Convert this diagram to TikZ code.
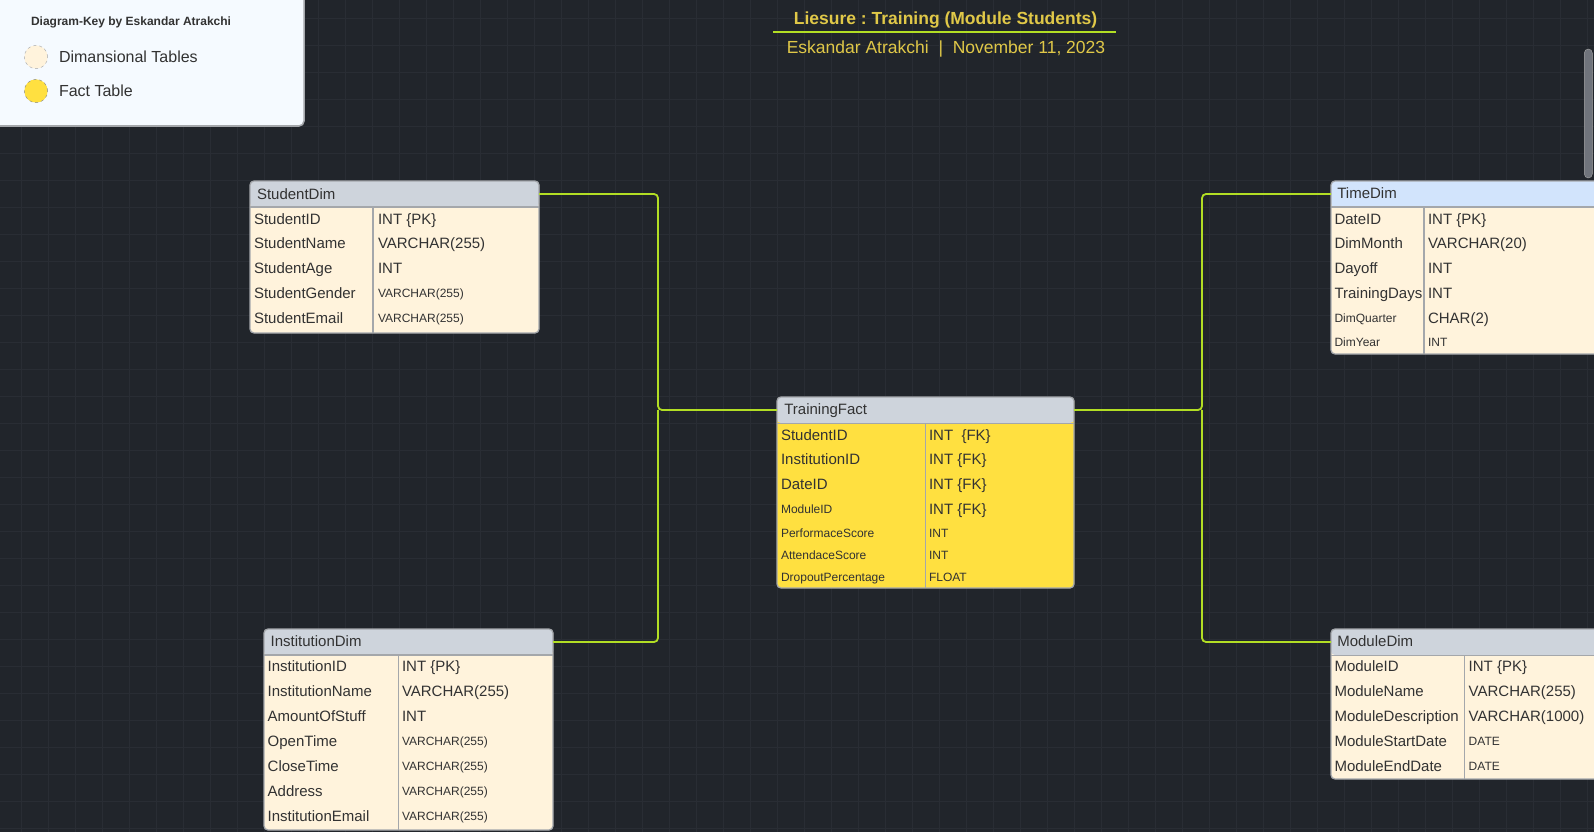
\documentclass[tikz,border=0pt]{standalone}
\usepackage{fontspec}
\setmainfont{Liberation Sans}
\usetikzlibrary{positioning}
\frenchspacing

\definecolor{bgdark}{RGB}{33,37,43}
\definecolor{gridc}{RGB}{41,45,52}
\definecolor{hdrgray}{RGB}{206,212,220}
\definecolor{hdrblue}{RGB}{210,228,252}
\definecolor{dimbody}{RGB}{255,243,220}
\definecolor{factbody}{RGB}{255,224,64}
\definecolor{edgegray}{RGB}{164,167,171}
\definecolor{txtdark}{RGB}{50,50,50}
\definecolor{keybg}{RGB}{245,250,255}
\definecolor{lime}{RGB}{178,222,36}
\definecolor{ttlc}{RGB}{224,200,72}
\definecolor{scrollc}{RGB}{112,116,124}

\begin{document}
\begin{tikzpicture}[x=1pt,y=-1pt,
    every node/.style={inner sep=0pt,outer sep=0pt},
    lg/.style={font=\fontsize{15}{18}\selectfont,text height=10.7pt,text depth=0pt},
    sm/.style={font=\fontsize{12}{14}\selectfont,text height=8.6pt,text depth=0pt},
    cell/.style={anchor=west,text=txtdark},
    tbl/.style={draw=edgegray,line width=1.3pt,rounded corners=4pt,anchor=north west,
      path picture={\fill[#1] (path picture bounding box.north west) rectangle
        ([yshift=-26pt]path picture bounding box.north east);}},
    rule/.style={draw=edgegray,line width=1.3pt},
    link/.style={draw=lime,line width=1.8pt,rounded corners=4pt}]
  \useasboundingbox (0,0) rectangle (1594,832);
  \clip (0,0) rectangle (1594,832);
  \fill[bgdark] (0,0) rectangle (1594,832);
  % background grid
  \foreach \i in {0,...,58}
    \draw[gridc,line width=0.8pt] (21.8+\i*27,0) -- (21.8+\i*27,832);
  \foreach \j in {0,...,30}
    \draw[gridc,line width=0.8pt] (0,18.3+\j*27) -- (1594,18.3+\j*27);

  % key
  \node[fill=keybg,draw=edgegray,line width=1.5pt,rounded corners=5pt,anchor=south east,
    minimum width=320pt,minimum height=140pt] (key) at (304,126) {};
  \node[anchor=west,font=\fontsize{12}{14}\selectfont\bfseries,text=txtdark,
    text height=8.6pt,text depth=0pt] (keyt) at (31,21) {Diagram-Key by Eskandar Atrakchi};
  \node[circle,minimum size=23.4pt,fill=dimbody,draw=edgegray,dashed,thin] (kd) at (36,57) {};
  \node[circle,minimum size=23.4pt,fill=factbody,draw=edgegray!80!black,dashed,thin] (kf) at (36,91) {};
  \node[text=txtdark,font=\fontsize{16}{19}\selectfont,text height=11.5pt,text depth=0pt,
    right=11.3pt of kd] (kdl) {Dimansional Tables};
  \node[text=txtdark,font=\fontsize{16}{19}\selectfont,text height=11.5pt,text depth=0pt,
    right=11.3pt of kf] (kfl) {Fact Table};

  % title
  \node[text=ttlc,font=\fontsize{17.5}{20}\selectfont\bfseries,text height=12.5pt,text depth=0pt]
    (ttl) at (945.5,18.3) {Liesure : Training (Module Students)};
  \draw[lime,line width=2pt] (773,32) -- (1116,32);
  \node[text=ttlc,font=\fontsize{17.5}{20}\selectfont,text height=12.5pt,text depth=0pt]
    (sub) at (946,47) {Eskandar Atrakchi\ \ |\ \ November 11, 2023};

  % scroll bar
  \draw[fill=scrollc,draw=gray!70,rounded corners=4pt] (1584.3,49) rectangle (1592.3,178);

  % StudentDim
  \node[tbl=hdrgray,fill=dimbody,minimum width=289pt,minimum height=152pt] (sd) at (250,181) {};
  \draw[rule] (250,207) -- (539,207) (373,207) -- (373,333);
  \node[cell,lg] (sd-t) at (257,194) {StudentDim};
  \foreach \f/\fs/\t/\ts/\y [count=\i] in {StudentID/lg/INT \{PK\}/lg/219,
      StudentName/lg/VARCHAR(255)/lg/243.5, StudentAge/lg/INT/lg/268.5,
      StudentGender/lg/VARCHAR(255)/sm/293.3, StudentEmail/lg/VARCHAR(255)/sm/318.3}
  {
    \node[cell,\fs] (sd-f\i) at (254,\y) {\f};
    \node[cell,\ts] (sd-c\i) at (378,\y) {\t};
  }

  % TimeDim
  \node[tbl=hdrblue,fill=dimbody,minimum width=300pt,minimum height=173pt] (td) at (1331,181) {};
  \draw[rule] (1331,207) -- (1631,207) (1424,207) -- (1424,354);
  \node[cell,lg] (td-t) at (1337.3,193) {TimeDim};
  \foreach \f/\fs/\t/\ts/\y [count=\i] in {DateID/lg/INT \{PK\}/lg/219,
      DimMonth/lg/VARCHAR(20)/lg/243.5, Dayoff/lg/INT/lg/268.5,
      TrainingDays/lg/INT/lg/293.3, DimQuarter/sm/CHAR(2)/lg/318.3, DimYear/sm/INT/sm/342.3}
  {
    \node[cell,\fs] (td-f\i) at (1334.5,\y) {\f};
    \node[cell,\ts] (td-c\i) at (1428,\y) {\t};
  }

  % TrainingFact
  \node[tbl=hdrgray,fill=factbody,minimum width=297pt,minimum height=191pt] (tf) at (777,397) {};
  \draw[rule] (777,423.7) -- (1074,423.7) (925.7,423.7) -- (925.7,588);
  \node[cell,lg] (tf-t) at (784.3,409.5) {TrainingFact};
  \foreach \f/\fs/\t/\ts/\y [count=\i] in {StudentID/lg/INT\ \ \{FK\}/lg/435,
      InstitutionID/lg/INT \{FK\}/lg/459.5, DateID/lg/INT \{FK\}/lg/484.5,
      ModuleID/sm/INT \{FK\}/lg/509.5, PerformaceScore/sm/INT/sm/532.7,
      AttendaceScore/sm/INT/sm/555, DropoutPercentage/sm/FLOAT/sm/576.7}
  {
    \node[cell,\fs] (tf-f\i) at (781,\y) {\f};
    \node[cell,\ts] (tf-c\i) at (929,\y) {\t};
  }

  % InstitutionDim
  \node[tbl=hdrgray,fill=dimbody,minimum width=289pt,minimum height=201pt] (in) at (264,629) {};
  \draw[rule] (264,655) -- (553,655) (398.3,655) -- (398.3,830);
  \node[cell,lg] (in-t) at (270.7,641) {InstitutionDim};
  \foreach \f/\fs/\t/\ts/\y [count=\i] in {InstitutionID/lg/INT \{PK\}/lg/666,
      InstitutionName/lg/VARCHAR(255)/lg/691, AmountOfStuff/lg/INT/lg/716,
      OpenTime/lg/VARCHAR(255)/sm/741, CloseTime/lg/VARCHAR(255)/sm/766,
      Address/lg/VARCHAR(255)/sm/791, InstitutionEmail/lg/VARCHAR(255)/sm/816}
  {
    \node[cell,\fs] (in-f\i) at (267.7,\y) {\f};
    \node[cell,\ts] (in-c\i) at (402,\y) {\t};
  }

  % ModuleDim
  \node[tbl=hdrgray,fill=dimbody,minimum width=300pt,minimum height=150pt] (md) at (1331,629) {};
  \draw[rule] (1331,655.3) -- (1631,655.3) (1464.7,655.3) -- (1464.7,779);
  \node[cell,lg] (md-t) at (1337.3,641) {ModuleDim};
  \foreach \f/\fs/\t/\ts/\y [count=\i] in {ModuleID/lg/INT \{PK\}/lg/666,
      ModuleName/lg/VARCHAR(255)/lg/691, ModuleDescription/lg/VARCHAR(1000)/lg/716,
      ModuleStartDate/lg/DATE/sm/741, ModuleEndDate/lg/DATE/sm/766}
  {
    \node[cell,\fs] (md-f\i) at (1334.5,\y) {\f};
    \node[cell,\ts] (md-c\i) at (1468.7,\y) {\t};
  }

  % links
  \coordinate (jl) at (658,410);
  \coordinate (jr) at (1202,410);
  \draw[link] ([yshift=-13pt]sd.north east) -| (jl) -- ([yshift=-13pt]tf.north west);
  \draw[link] ([yshift=-13pt]in.north east) -| (jl);
  \draw[link] ([yshift=-13pt]tf.north east) -- (jr) |- ([yshift=-13pt]td.north west);
  \draw[link] (jr) |- ([yshift=-13pt]md.north west);
\end{tikzpicture}
\end{document}
